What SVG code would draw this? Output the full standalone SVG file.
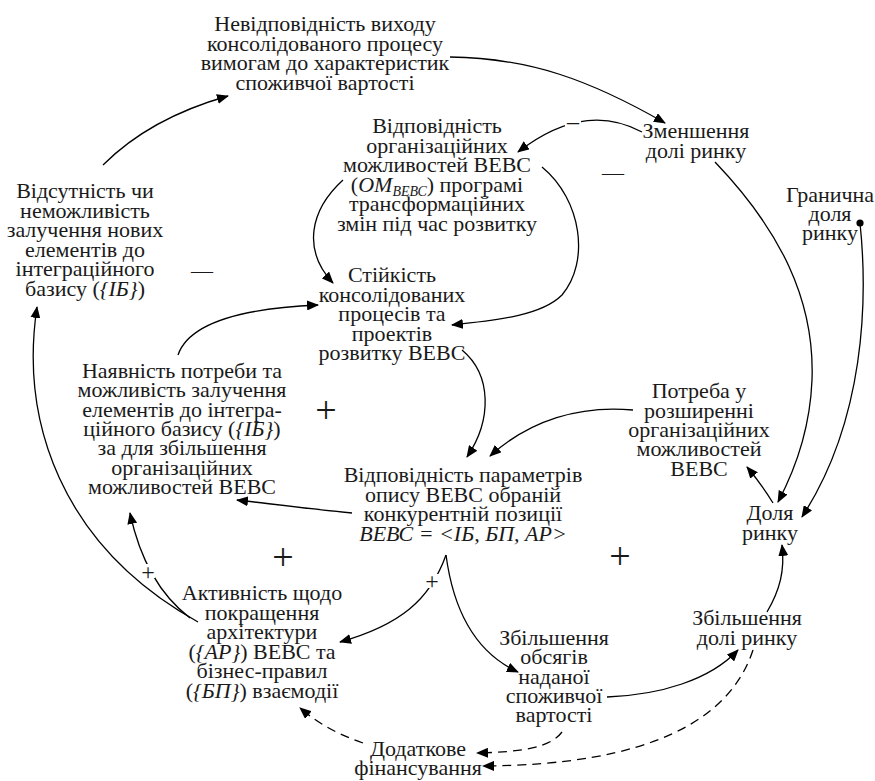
<svg xmlns="http://www.w3.org/2000/svg" width="875" height="781" viewBox="0 0 875 781" font-family="Liberation Serif, serif">
<style>
text{font-family:'Liberation Serif',serif;font-size:22px;fill:#1a1a1a;text-anchor:middle}
.it{font-style:italic}
.sub{font-style:italic;font-size:14px}
.c{fill:none;stroke:#000;stroke-width:1.3}
.d{stroke-dasharray:9,6}
.sg{font-size:38px}
.ss{font-size:24px}
</style>
<defs>
<marker id="ah" viewBox="0 0 12 10" refX="11" refY="5" markerWidth="12" markerHeight="10" markerUnits="userSpaceOnUse" orient="auto">
<path d="M0,0 L12,5 L0,10 Z" fill="#000"/>
</marker>
<marker id="dot" viewBox="0 0 8 8" refX="4" refY="4" markerWidth="8" markerHeight="8" markerUnits="userSpaceOnUse">
<circle cx="4" cy="4" r="3.6" fill="#000"/>
</marker>
</defs>
<rect width="875" height="781" fill="#fff"/>
<g id="connectors">
<path class="c" d="M103,165 Q150,118 228,96" marker-end="url(#ah)"/>
<path class="c" d="M450,57 C530,58 590,80 665,123" marker-end="url(#ah)"/>
<path class="c" d="M642,132 C610,115 570,112 518,152" marker-end="url(#ah)"/>
<path class="c" d="M343,180 C310,210 302,250 333,283" marker-end="url(#ah)"/>
<path class="c" d="M542,167 C582,200 590,262 562,295 C542,315 500,320 452,325" marker-end="url(#ah)"/>
<path class="c" d="M178,355 C190,320 250,308 318,305" marker-end="url(#ah)"/>
<path class="c" d="M462,350 C492,375 492,420 467,457" marker-end="url(#ah)"/>
<path class="c" d="M633,410 C580,405 530,420 490,456" marker-end="url(#ah)"/>
<path class="c" d="M352,513 C320,510 280,505 237,500" marker-end="url(#ah)"/>
<path class="c" d="M446,555 C430,600 400,625 340,642" marker-end="url(#ah)"/>
<path class="c" d="M446,555 C452,600 470,650 518,672" marker-end="url(#ah)"/>
<path class="c" d="M607,697 C660,695 710,680 738,650" marker-end="url(#ah)"/>
<path class="c" d="M767,612 C780,590 785,570 782,545" marker-end="url(#ah)"/>
<path class="c" d="M715,162 C780,230 815,300 812,380 C810,430 795,470 778,502" marker-end="url(#ah)"/>
<path class="c" d="M860,223 C868,300 865,420 802,517" marker-start="url(#dot)" marker-end="url(#ah)"/>
<path class="c" d="M773,503 C765,490 758,480 747,467" marker-end="url(#ah)"/>
<path class="c" d="M190,618 C160,595 140,560 130,513" marker-end="url(#ah)"/>
<path class="c" d="M198,622 C60,545 20,420 37,307" marker-end="url(#ah)"/>
<path class="c d" d="M562,732 C550,748 520,752 477,753" marker-end="url(#ah)"/>
<path class="c d" d="M753,650 C730,720 650,765 483,766" marker-end="url(#ah)"/>
<path class="c d" d="M363,743 C340,735 320,725 300,708" marker-end="url(#ah)"/>
<rect x="565" y="115" width="16" height="14" fill="#fff"/>
<rect x="141" y="564" width="14" height="14" fill="#fff"/>
<rect x="425" y="574" width="14" height="14" fill="#fff"/>
<text x="573" y="129" class="ss">–</text>
<text x="613" y="180">—</text>
<text x="202" y="278">—</text>
<text x="326" y="423" class="sg">+</text>
<text x="283" y="570" class="sg">+</text>
<text x="620" y="569" class="sg">+</text>
<text x="148" y="580" class="ss">+</text>
<text x="432" y="589" class="ss">+</text>
</g>
<g id="nA"><text><tspan x="325" y="31">Невідповідність виходу</tspan><tspan x="325" y="50.5">консолідованого процесу</tspan><tspan x="325" y="70">вимогам до характеристик</tspan><tspan x="325" y="89.5">споживчої вартості</tspan></text></g>
<g id="nB"><text><tspan x="437" y="133">Відповідність</tspan><tspan x="437" y="152.5">організаційних</tspan><tspan x="437" y="172">можливостей ВЕВС</tspan><tspan x="437" y="191.5">(<tspan class="it">ОМ</tspan><tspan class="sub" dy="4">ВЕВС</tspan><tspan dy="-4">) програмі</tspan></tspan><tspan x="437" y="211">трансформаційних</tspan><tspan x="437" y="230.5">змін під час розвитку</tspan></text></g>
<g id="nC"><text><tspan x="85" y="198">Відсутність чи</tspan><tspan x="85" y="217.5">неможливість</tspan><tspan x="85" y="237">залучення нових</tspan><tspan x="85" y="256.5">елементів до</tspan><tspan x="85" y="276">інтеграційного</tspan><tspan x="85" y="295.5">базису (<tspan class="it">{ІБ}</tspan>)</tspan></text></g>
<g id="nD"><text><tspan x="696" y="138">Зменшення</tspan><tspan x="696" y="158">долі ринку</tspan></text></g>
<g id="nE"><text><tspan x="830" y="202">Гранична</tspan><tspan x="830" y="221">доля</tspan><tspan x="830" y="240">ринку</tspan></text></g>
<g id="nF"><text><tspan x="392" y="282">Стійкість</tspan><tspan x="392" y="301.5">консолідованих</tspan><tspan x="392" y="321">процесів та</tspan><tspan x="392" y="340.5">проектів</tspan><tspan x="392" y="360">розвитку ВЕВС</tspan></text></g>
<g id="nG"><text><tspan x="182" y="378">Наявність потреби та</tspan><tspan x="182" y="397">можливість залучення</tspan><tspan x="182" y="416.5">елементів до інтегра-</tspan><tspan x="182" y="436">ційного базису (<tspan class="it">{ІБ}</tspan>)</tspan><tspan x="182" y="455">за для збільшення</tspan><tspan x="182" y="474.5">організаційних</tspan><tspan x="182" y="494">можливостей ВЕВС</tspan></text></g>
<g id="nH"><text><tspan x="699" y="398">Потреба у</tspan><tspan x="699" y="417.5">розширенні</tspan><tspan x="699" y="437">організаційних</tspan><tspan x="699" y="456">можливостей</tspan><tspan x="699" y="475.5">ВЕВС</tspan></text></g>
<g id="nI"><text><tspan x="770" y="520">Доля</tspan><tspan x="770" y="540">ринку</tspan></text></g>
<g id="nJ"><text><tspan x="463" y="482">Відповідність параметрів</tspan><tspan x="463" y="501.5">опису ВЕВС обраній</tspan><tspan x="463" y="521">конкурентній позиції</tspan><tspan x="463" y="540.5" class="it">ВЕВС = &lt;ІБ, БП, АР&gt;</tspan></text></g>
<g id="nK"><text><tspan x="262" y="600">Активність щодо</tspan><tspan x="262" y="619.5">покращення</tspan><tspan x="262" y="639">архітектури</tspan><tspan x="262" y="658.5">(<tspan class="it">{АР}</tspan>) ВЕВС та</tspan><tspan x="262" y="678">бізнес-правил</tspan><tspan x="262" y="697.5">(<tspan class="it">{БП}</tspan>) взаємодії</tspan></text></g>
<g id="nL"><text><tspan x="554" y="645">Збільшення</tspan><tspan x="554" y="664">обсягів</tspan><tspan x="554" y="683.5">наданої</tspan><tspan x="554" y="703">споживчої</tspan><tspan x="554" y="722">вартості</tspan></text></g>
<g id="nM"><text><tspan x="747" y="625">Збільшення</tspan><tspan x="747" y="645">долі ринку</tspan></text></g>
<g id="nN"><text><tspan x="418" y="756">Додаткове</tspan><tspan x="418" y="775">фінансування</tspan></text></g>
</svg>
